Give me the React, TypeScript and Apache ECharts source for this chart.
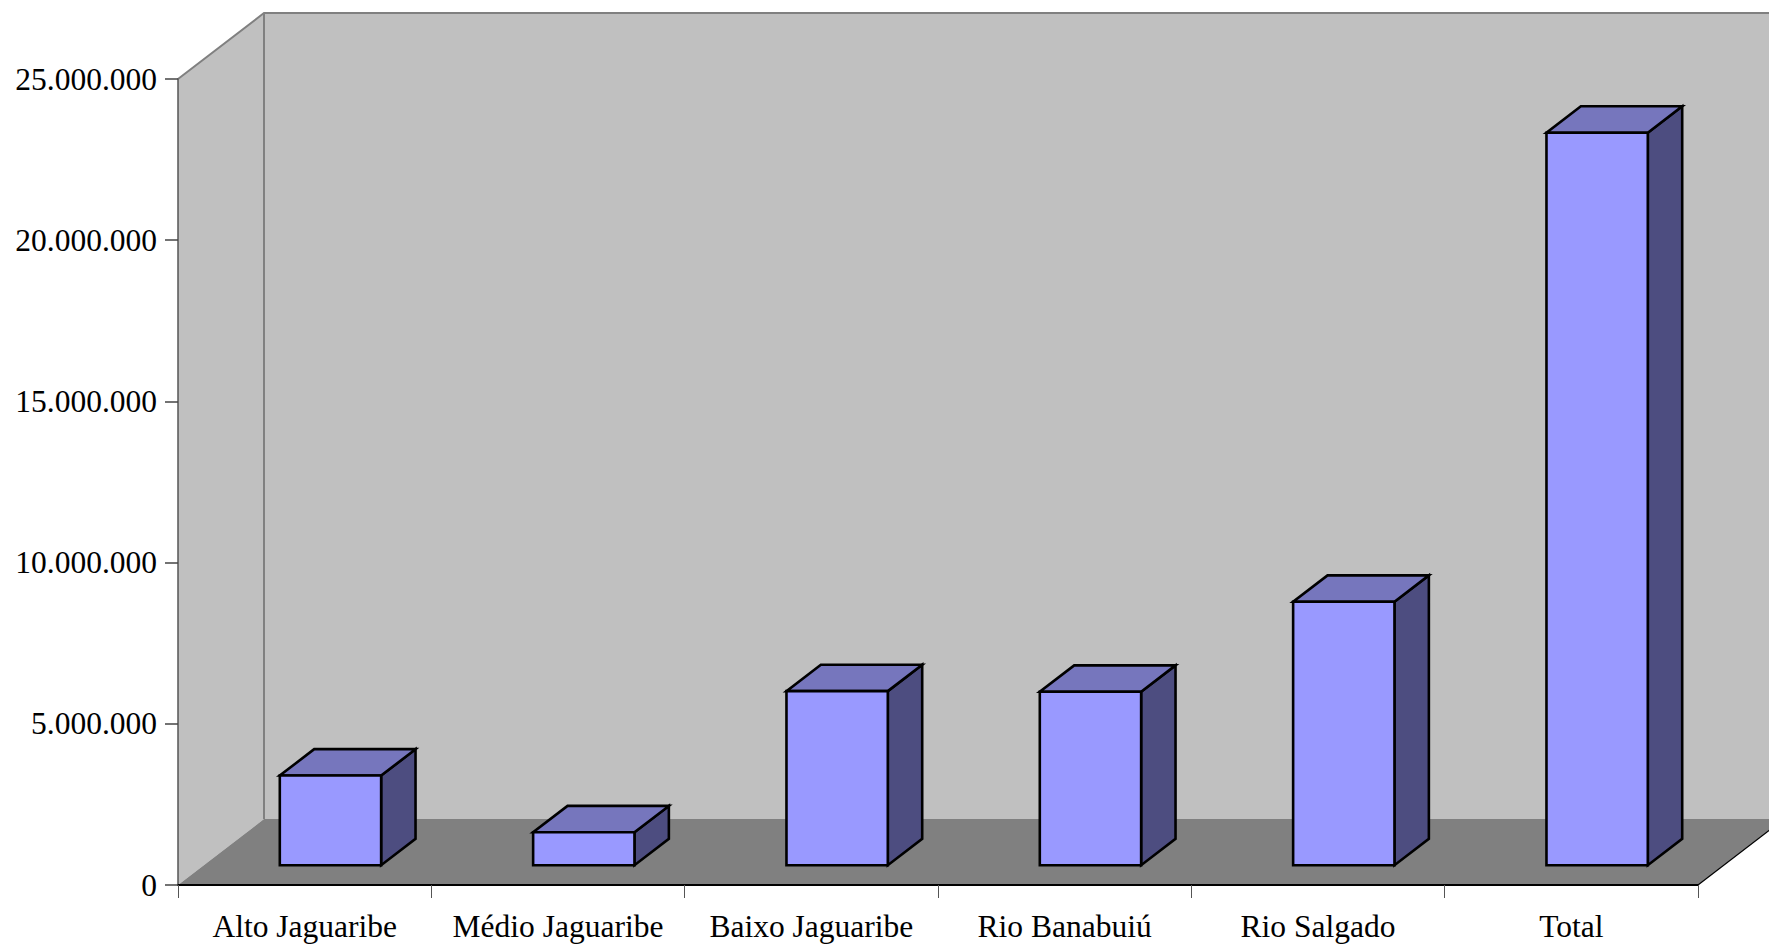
import React, { useEffect, useRef } from "react";
import * as echarts from "echarts";

// Regions of the Jaguaribe basin and their totals
const categories = [
  "Alto Jaguaribe",
  "Médio Jaguaribe",
  "Baixo Jaguaribe",
  "Rio Banabuiú",
  "Rio Salgado",
  "Total",
];
const values = [2780000, 1020000, 5400000, 5380000, 8170000, 22720000];

const yMin = 0;
const yMax = 25000000;
const yInterval = 5000000;

// Oblique depth of the box (pixels) and bar placement inside that depth
const DX = 86;
const DY = -66;
const F0 = 0.3;
const F1 = 0.7;
const BAR_RATIO = 0.4;

const FONT = "'Liberation Serif', 'Times New Roman', serif";

const fmt = (v: number) =>
  Math.round(v).toString().replace(/\B(?=(\d{3})+(?!\d))/g, ".");

export default function App() {
  const ref = useRef<HTMLDivElement>(null);

  useEffect(() => {
    if (!ref.current) return;
    const chart = echarts.init(ref.current, undefined, { renderer: "svg" });

    const renderWalls = (params: any) => {
      const cs = params.coordSys;
      const x0 = cs.x;
      const x1 = cs.x + cs.width;
      const yt = cs.y;
      const yb = cs.y + cs.height;
      const wallFill = "#c0c0c0";
      const edge = { stroke: "#808080", lineWidth: 2 };
      return {
        type: "group",
        children: [
          {
            type: "rect",
            shape: { x: x0 + DX, y: yt + DY, width: x1 - x0 + 40, height: yb - yt },
            style: { fill: wallFill },
          },
          {
            type: "polygon",
            shape: {
              points: [
                [x0, yt],
                [x0 + DX, yt + DY],
                [x0 + DX, yb + DY],
                [x0, yb],
              ],
            },
            style: { fill: wallFill },
          },
          {
            type: "polygon",
            shape: {
              points: [
                [x0, yb],
                [x0 + DX, yb + DY],
                [x1 + DX, yb + DY],
                [x1, yb],
              ],
            },
            style: { fill: "#808080" },
          },
          {
            type: "polyline",
            shape: {
              points: [
                [x0, yt],
                [x0 + DX, yt + DY],
                [x1 + DX + 40, yt + DY],
              ],
            },
            style: { fill: "none", ...edge },
          },
          {
            type: "line",
            shape: { x1: x0 + DX, y1: yt + DY, x2: x0 + DX, y2: yb + DY },
            style: edge,
          },
          {
            type: "line",
            shape: { x1: x1, y1: yb, x2: x1 + DX, y2: yb + DY },
            style: { stroke: "#000", lineWidth: 1.2 },
          },
        ],
      };
    };

    const renderBar = (params: any, api: any) => {
      const idx = api.value(0);
      const base = api.coord([idx, 0]);
      const top = api.coord([idx, api.value(1)]);
      const band = api.size([1, 0])[0];
      const bw = band * BAR_RATIO;
      const L = base[0] - bw / 2;
      const R = base[0] + bw / 2;
      const T = top[1];
      const B = base[1];
      const ax = DX * F0;
      const ay = DY * F0;
      const bx = DX * F1;
      const by = DY * F1;
      const stroke = { stroke: "#000", lineWidth: 2.6, lineJoin: "miter" };
      return {
        type: "group",
        children: [
          {
            type: "polygon",
            shape: {
              points: [
                [R + ax, T + ay],
                [R + bx, T + by],
                [R + bx, B + by],
                [R + ax, B + ay],
              ],
            },
            style: { fill: "#4d4d80", ...stroke },
          },
          {
            type: "polygon",
            shape: {
              points: [
                [L + ax, T + ay],
                [R + ax, T + ay],
                [R + bx, T + by],
                [L + bx, T + by],
              ],
            },
            style: { fill: "#7676bd", ...stroke },
          },
          {
            type: "rect",
            shape: { x: L + ax, y: T + ay, width: bw, height: B - T },
            style: { fill: "#9999ff", ...stroke },
          },
        ],
      };
    };

    chart.setOption({
      animation: false,
      backgroundColor: "#ffffff",
      grid: {
        left: 178,
        right: 71,
        top: 79,
        bottom: 60,
        containLabel: false,
        outerBoundsMode: "none",
      },
      xAxis: {
        type: "category",
        data: categories,
        z: 5,
        axisLine: { show: true, lineStyle: { color: "#000", width: 2 } },
        axisTick: { show: true, length: 13, lineStyle: { color: "#555", width: 1 } },
        axisLabel: {
          color: "#000",
          fontFamily: FONT,
          fontSize: 31.5,
          margin: 25,
          interval: 0,
        },
        splitLine: { show: false },
      },
      yAxis: {
        type: "value",
        min: yMin,
        max: yMax,
        interval: yInterval,
        z: 5,
        axisLine: { show: true, lineStyle: { color: "#555", width: 1.5 } },
        axisTick: { show: true, length: 13, lineStyle: { color: "#444", width: 1.5 } },
        axisLabel: {
          color: "#000",
          fontFamily: FONT,
          fontSize: 31.5,
          margin: 21,
          formatter: (v: number) => fmt(v),
        },
        splitLine: { show: false },
      },
      series: [
        {
          type: "custom",
          z: 1,
          silent: true,
          data: [[0, 0]],
          encode: { x: 0, y: 1 },
          renderItem: renderWalls,
        },
        {
          type: "custom",
          z: 2,
          data: values.map((v, i) => [i, v]),
          encode: { x: 0, y: 1 },
          renderItem: renderBar,
        },
      ],
    });

    return () => chart.dispose();
  }, []);

  return (
    <div
      ref={ref}
      style={{ position: "absolute", left: 0, top: 0, width: 1769, height: 945 }}
    />
  );
}
